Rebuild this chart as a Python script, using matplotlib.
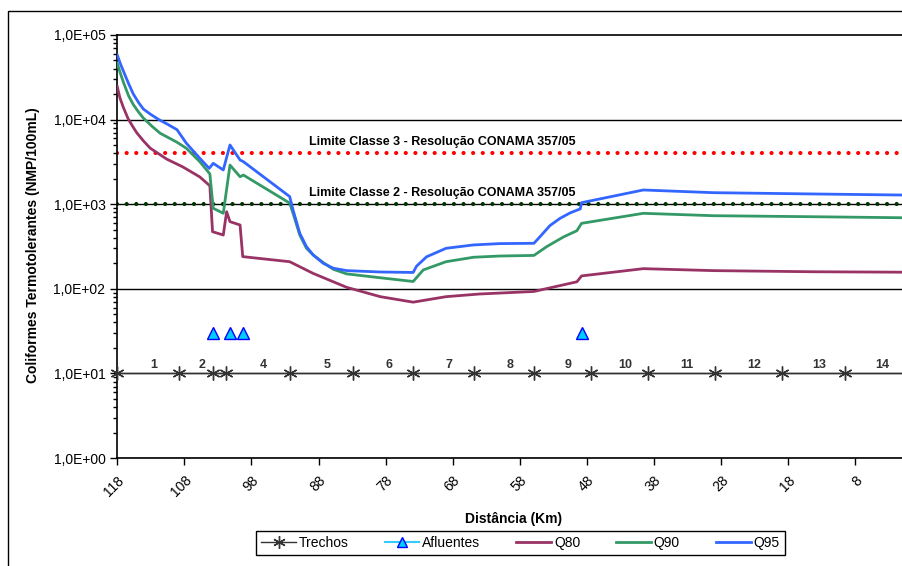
import matplotlib
matplotlib.use("Agg")
import matplotlib.pyplot as plt
import numpy as np
from matplotlib.lines import Line2D
from matplotlib.patches import Rectangle
from matplotlib.ticker import FixedLocator, LogLocator, NullFormatter

plt.rcParams['font.family'] = ['Liberation Sans', 'DejaVu Sans']

# trecho boundaries (km) and labels
trechos_km = [118, 108.8, 103.7, 101.8, 92.3, 82.8, 73.9, 64.8, 55.9, 47.4, 38.9, 28.9, 19.0, 9.5, 0]
trechos_val = [10] * len(trechos_km)
trechos_lbl = ['1', '2', '', '4', '5', '6', '7', '8', '9', '10', '11', '12', '13', '14']

# tributaries
afl_km = [103.7, 101.2, 99.3, 48.8]
afl_val = [30, 30, 30, 30]

# Q95
q95_km = [118, 117.5, 117.0, 116.3, 115.6, 114.8, 114.1, 113.0, 111.9, 110.5, 109.1, 107.7, 105.7, 104.3,
          103.7, 102.2, 101.2, 99.7, 99.2,
          92.3, 91.8, 90.8, 89.8, 88.8, 87.3, 85.8, 83.8, 78.8, 73.9, 73.4, 71.9, 69.0, 64.9, 61.0, 55.9,
          55.0, 53.5, 52.0, 50.5, 49.0, 48.8, 39.6, 29.2, 14.3, 0]
q95_val = [58000, 45000, 36000, 26500, 20000, 15800, 13300, 11500, 10100, 8800, 7600, 5250, 3490, 2650,
           3040, 2540, 5010, 3330, 3180,
           1230, 853, 453, 315, 251, 200, 175, 164, 158, 156, 185, 239, 301, 330, 342, 345,
           413, 560, 681, 790, 880, 1042, 1472, 1368, 1321, 1280]

# Q90
q90_km = [118, 117.5, 117.0, 116.3, 115.6, 114.8, 114.1, 112.8, 111.6, 109.1, 107.7, 105.7, 104.2,
          103.7, 102.2, 101.2, 99.7, 99.2,
          92.3, 91.8, 90.8, 89.8, 88.8, 87.3, 85.8, 83.8, 78.8, 73.9, 72.4, 69.0, 64.9, 61.0, 55.9,
          54.0, 51.5, 49.5, 48.8, 39.6, 29.2, 14.3, 0]
q90_val = [46300, 34500, 26500, 19000, 15000, 12200, 10400, 8300, 6890, 5400, 4580, 3180, 2280,
           895, 781, 2900, 2110, 2210,
           1030, 780, 432, 301, 251, 204, 170, 150, 135, 122, 167, 209, 236, 244, 248,
           315, 410, 486, 594, 780, 731, 711, 690]

# Q80
q80_km = [118, 117.6, 117.1, 116.4, 115.7, 115.1, 114.1, 113.1, 110.6, 108.2, 105.7, 104.2,
          103.8, 102.2, 101.7, 101.2, 99.7,
          99.3, 92.3, 88.8, 83.8, 78.8, 73.9, 69.0, 64.0, 55.9, 49.5, 48.8, 39.6, 29.2, 14.3, 0]
q80_val = [24500, 18000, 14000, 10300, 8300, 7000, 5600, 4600, 3400, 2750, 2100, 1650,
           473, 432, 815, 621, 568,
           240, 209, 152, 104, 80.7, 69.5, 80.7, 86.8, 93, 121, 142, 173, 164, 159, 157]

lim_c3 = 4000
lim_c2 = 1000

xticks = list(range(118, 0, -10))

fig = plt.figure(figsize=(9.02, 5.66), dpi=100)
ax = fig.add_axes([0.130, 0.1908, 0.8778, 0.7474])

# horizontal grid at every decade
for v in [1, 10, 100, 1000, 10000]:
    ax.axhline(v, color='black', lw=1, zorder=1)

ax.axhline(lim_c3, color='#FF0000', lw=3, linestyle=(0, (0.01, 2.3)),
           dash_capstyle='round', zorder=2)
ax.axhline(lim_c2, color='#003300', lw=3, linestyle=(0, (0.01, 2.3)),
           dash_capstyle='round', zorder=2)
ax.text(69.6, lim_c3 * 1.36, 'Limite Classe 3 - Resolução CONAMA 357/05',
        ha='center', va='center', fontsize=9, fontweight='bold')
ax.text(69.6, lim_c2 * 1.36, 'Limite Classe 2 - Resolução CONAMA 357/05',
        ha='center', va='center', fontsize=9, fontweight='bold')

ax.plot(q80_km, q80_val, color='#993366', lw=2, zorder=3)
ax.plot(q90_km, q90_val, color='#339966', lw=2, zorder=3)
ax.plot(q95_km, q95_val, color='#3366FF', lw=2, zorder=3)

ax.plot(trechos_km, trechos_val, color='#333333', lw=1, marker=(6, 2, 0),
        markersize=10, markeredgewidth=1, zorder=4, clip_on=False)
ax.plot(afl_km, afl_val, linestyle='none', marker='^', markersize=8,
        markerfacecolor='#00CCFF', markeredgecolor='#0000FF', markeredgewidth=1, zorder=4)

mids = [(a + b) / 2 for a, b in zip(trechos_km[:-1], trechos_km[1:])]
for m, lbl in zip(mids, trechos_lbl):
    ax.annotate(lbl, (m, 10), xytext=(4, 1.5), textcoords='offset points',
                ha='center', va='bottom', fontsize=9, fontweight='bold', color='#333333')

ax.set_yscale('log')
ax.set_ylim(1, 1e5)
ax.set_xlim(118, 0)
ax.yaxis.set_major_locator(FixedLocator([1, 10, 100, 1000, 10000, 100000]))
ax.yaxis.set_minor_locator(LogLocator(base=10, subs=np.arange(2, 10)))
ax.yaxis.set_minor_formatter(NullFormatter())
ax.set_yticklabels(['1,0E+00', '1,0E+01', '1,0E+02', '1,0E+03', '1,0E+04', '1,0E+05'])
ax.set_xticks(xticks)
ax.set_xticklabels([str(t) for t in xticks], rotation=45, ha='right', rotation_mode='anchor')
ax.tick_params(axis='both', which='major', direction='out', length=5, width=1, labelsize=10)
ax.tick_params(axis='y', which='minor', direction='out', length=3, width=1)
ax.tick_params(axis='x', pad=6)
for s in ax.spines.values():
    s.set_linewidth(1.2)

fig.text(0.0366, 0.567, 'Coliformes Termotolerantes (NMP/100mL)', rotation=90,
         ha='center', va='center', fontsize=10, fontweight='bold')
fig.text(0.569, 0.083, 'Distância (Km)', ha='center', va='center',
         fontsize=10, fontweight='bold')

handles = [
    Line2D([], [], color='#333333', lw=1, marker=(6, 2, 0), markersize=9),
    Line2D([], [], color='#33CCFF', lw=1.5, marker='^', markersize=7,
           markerfacecolor='#00CCFF', markeredgecolor='#0000FF'),
    Line2D([], [], color='#993366', lw=2),
    Line2D([], [], color='#339966', lw=2),
    Line2D([], [], color='#3366FF', lw=2),
]
leg = fig.legend(handles, ['Trechos', 'Afluentes', 'Q80', 'Q90', 'Q95'], loc='center',
                 bbox_to_anchor=(0.577, 0.0406), ncol=5, fontsize=10, frameon=True,
                 fancybox=False, edgecolor='black', framealpha=1, handlelength=2.5,
                 columnspacing=2.6, handletextpad=0.2, borderpad=0.35)
leg.get_frame().set_linewidth(1)

fig.patches.append(Rectangle((8 / 902, -0.2), 1.5, (566 - 11) / 566 + 0.2,
                             transform=fig.transFigure, fill=False, edgecolor='black', lw=1))

fig.savefig('out.png', dpi=100)
